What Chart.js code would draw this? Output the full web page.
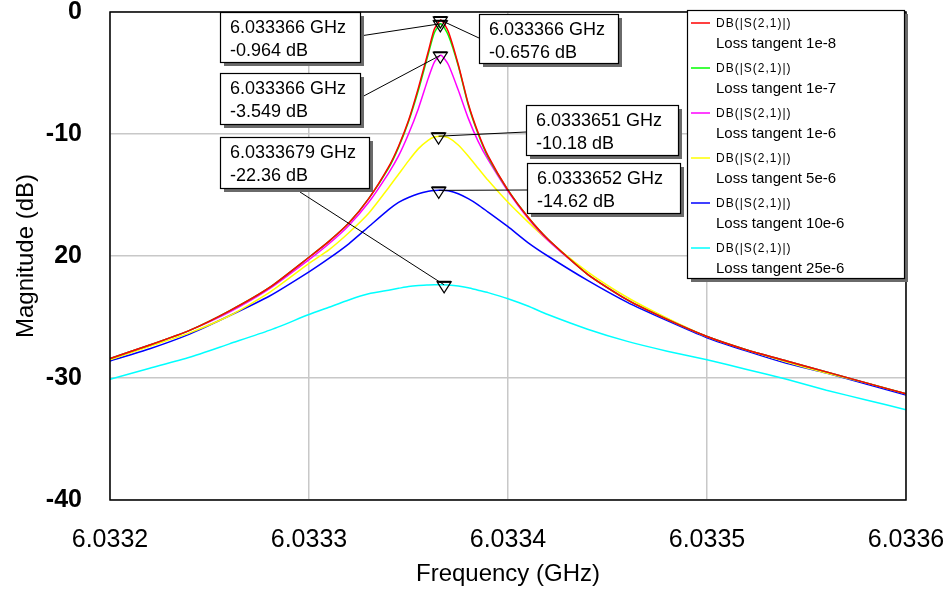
<!DOCTYPE html>
<html>
<head>
<meta charset="utf-8">
<script src="https://cdn.jsdelivr.net/npm/chart.js@4.4.1/dist/chart.umd.min.js"></script>
<style>
  html, body { margin: 0; padding: 0; background: #fff; }
  canvas { display: block; }
</style>
</head>
<body>
<canvas id="chart" width="952" height="595"></canvas>
<script>
// frequency grid (GHz), denser around the resonance
const freqs = [6.03320, 6.03322, 6.03324, 6.03326, 6.03328, 6.03330, 6.03331, 6.03332, 6.03333, 6.03334,
  6.033345, 6.03335, 6.033355, 6.03336, 6.033363, 6.0333663, 6.03337, 6.033375, 6.03338, 6.033385,
  6.03339, 6.03340, 6.03341, 6.03342, 6.03344, 6.03346, 6.03348, 6.03350, 6.03352, 6.03354,
  6.03356, 6.03358, 6.03360];

// |S21| in dB, one array per loss tangent
const lt1e8 = [-28.4, -27.3, -26.1, -24.5, -22.6, -20.1, -18.8, -17.3, -15.3, -12.7,
  -11.0, -8.9, -6.2, -3.2, -1.4, -0.66, -1.6, -4.3, -7.5, -9.9,
  -11.8, -14.6, -16.8, -18.6, -21.5, -23.6, -25.2, -26.6, -27.7, -28.6,
  -29.5, -30.4, -31.3];
const lt1e7 = [-28.4, -27.3, -26.1, -24.5, -22.6, -20.1, -18.8, -17.3, -15.3, -12.8,
  -11.1, -9.0, -6.4, -3.4, -1.7, -0.96, -1.9, -4.4, -7.6, -10.0,
  -11.9, -14.6, -16.8, -18.6, -21.5, -23.6, -25.2, -26.6, -27.7, -28.6,
  -29.5, -30.4, -31.3];
const lt1e6 = [-28.4, -27.3, -26.1, -24.6, -22.7, -20.3, -19.0, -17.5, -15.6, -13.2,
  -11.8, -10.0, -7.9, -5.4, -4.1, -3.55, -4.3, -6.4, -8.7, -10.6,
  -12.1, -14.7, -16.9, -18.7, -21.5, -23.6, -25.2, -26.6, -27.7, -28.6,
  -29.5, -30.4, -31.3];
const lt5e6 = [-28.5, -27.4, -26.3, -24.9, -23.0, -20.6, -19.5, -18.1, -16.5, -14.4,
  -13.3, -12.2, -11.2, -10.5, -10.25, -10.18, -10.3, -10.9, -11.8, -12.8,
  -13.8, -15.6, -17.2, -18.7, -21.3, -23.4, -25.1, -26.6, -27.7, -28.7,
  -29.6, -30.4, -31.3];
const lt10e6 = [-28.6, -27.6, -26.4, -24.9, -23.3, -21.3, -20.2, -19.0, -17.6, -16.2,
  -15.6, -15.2, -14.9, -14.7, -14.63, -14.62, -14.66, -14.9, -15.3, -15.8,
  -16.4, -17.6, -18.9, -20.0, -22.0, -23.8, -25.3, -26.7, -27.8, -28.8,
  -29.6, -30.5, -31.4];
const lt25e6 = [-30.1, -29.2, -28.3, -27.2, -26.1, -24.8, -24.2, -23.6, -23.1, -22.8,
  -22.65, -22.5, -22.42, -22.38, -22.36, -22.36, -22.37, -22.45, -22.6, -22.8,
  -23.0, -23.5, -24.1, -24.8, -26.0, -27.0, -27.8, -28.5, -29.3, -30.1,
  -31.0, -31.8, -32.6];

const seriesValues = [lt1e8, lt1e7, lt1e6, lt5e6, lt10e6, lt25e6];
const seriesNames = ['Loss tangent 1e-8', 'Loss tangent 1e-7', 'Loss tangent 1e-6',
  'Loss tangent 5e-6', 'Loss tangent 10e-6', 'Loss tangent 25e-6'];
const seriesColors = ['#ff0000', '#00ff00', '#ff00ff', '#ffff00', '#0000ff', '#00ffff'];
const measureName = 'DB(|S(2,1)|)';

const xTicks = [6.0332, 6.0333, 6.0334, 6.0335, 6.0336];
const xTickLabels = ['6.0332', '6.0333', '6.0334', '6.0335', '6.0336'];
const yTicks = [0, -10, -20, -30, -40];
const yTickLabels = ['0', '-10', '20', '-30', '-40'];

// peak markers, one per series
const markerFreqs = [6.033366, 6.033366, 6.033366, 6.0333651, 6.0333652, 6.0333679];
const markerDbs = [-0.6576, -0.964, -3.549, -10.18, -14.62, -22.36];
const markerFreqText = ['6.033366', '6.033366', '6.033366', '6.0333651', '6.0333652', '6.0333679'];
const markerDbText = ['-0.6576', '-0.964', '-3.549', '-10.18', '-14.62', '-22.36'];
// label boxes (pixels) and where their leader line leaves the box
const markerBoxes = [
  { x: 479, y: 14, w: 139, h: 49, fx: 479, fy: 38 },
  { x: 220, y: 12, w: 140, h: 50, fx: 360, fy: 36 },
  { x: 220, y: 73, w: 140, h: 51, fx: 360, fy: 98 },
  { x: 526, y: 105, w: 152, h: 50, fx: 526, fy: 132 },
  { x: 527, y: 163, w: 153, h: 50, fx: 527, fy: 190 },
  { x: 220, y: 137, w: 149, h: 51, fx: 300, fy: 192 }
];

const FONT = '"Liberation Sans", Arial, sans-serif';

function shadowBox(ctx, x, y, w, h) {
  ctx.fillStyle = '#6a6a6a';
  ctx.fillRect(x + 4, y + 4, w, h);
  ctx.fillStyle = '#fff';
  ctx.fillRect(x, y, w, h);
  ctx.strokeStyle = '#000';
  ctx.lineWidth = 1.2;
  ctx.strokeRect(x + 0.5, y + 0.5, w, h);
}

const overlay = {
  id: 'overlay',
  afterDatasetsDraw(chart) {
    const { ctx, chartArea: a, scales: { x, y } } = chart;
    ctx.save();
    // frame
    ctx.strokeStyle = '#000';
    ctx.lineWidth = 1.5;
    ctx.strokeRect(a.left, a.top, a.right - a.left, a.bottom - a.top);

    // leader lines
    ctx.lineWidth = 1;
    markerFreqs.forEach((f, i) => {
      const px = x.getPixelForValue(f);
      const py = y.getPixelForValue(markerDbs[i]);
      const b = markerBoxes[i];
      ctx.beginPath();
      ctx.moveTo(b.fx, b.fy);
      ctx.lineTo(px, py);
      ctx.stroke();
    });

    // triangle markers
    markerFreqs.forEach((f, i) => {
      const px = x.getPixelForValue(f);
      const py = y.getPixelForValue(markerDbs[i]);
      ctx.lineWidth = 1.2;
      ctx.beginPath();
      ctx.moveTo(px - 7, py - 3);
      ctx.lineTo(px + 7, py - 3);
      ctx.lineTo(px, py + 8);
      ctx.closePath();
      ctx.stroke();
      ctx.lineWidth = 2;
      ctx.beginPath();
      ctx.moveTo(px - 7, py - 3);
      ctx.lineTo(px + 7, py - 3);
      ctx.stroke();
    });

    // label boxes
    ctx.font = '18px ' + FONT;
    ctx.textBaseline = 'alphabetic';
    ctx.textAlign = 'left';
    markerBoxes.forEach((b, i) => {
      shadowBox(ctx, b.x, b.y, b.w, b.h);
      ctx.fillStyle = '#000';
      ctx.fillText(markerFreqText[i] + ' GHz', b.x + 10, b.y + 21);
      ctx.fillText(markerDbText[i] + ' dB', b.x + 10, b.y + 44);
    });

    // legend
    const lx = 687, ly = 10, lw = 217, lh = 268;
    shadowBox(ctx, lx, ly, lw, lh);
    seriesNames.forEach((name, i) => {
      const cy = ly + 13 + 45 * i;
      ctx.strokeStyle = seriesColors[i];
      ctx.lineWidth = 1.5;
      ctx.beginPath();
      ctx.moveTo(lx + 4, cy);
      ctx.lineTo(lx + 23, cy);
      ctx.stroke();
      ctx.fillStyle = '#000';
      ctx.font = '12px ' + FONT;
      ctx.letterSpacing = '1px';
      ctx.textBaseline = 'middle';
      ctx.fillText(measureName, lx + 29, cy + 1);
      ctx.letterSpacing = '0px';
      ctx.font = '15px ' + FONT;
      ctx.textBaseline = 'alphabetic';
      ctx.fillText(name, lx + 29, cy + 25);
    });
    ctx.restore();
  }
};

const datasets = seriesValues.map((vals, i) => ({
  label: seriesNames[i],
  data: freqs.map((f, k) => ({ x: f, y: vals[k] })),
  borderColor: seriesColors[i],
  backgroundColor: seriesColors[i],
  borderWidth: 1.5,
  pointRadius: 0,
  tension: 0.2,
  fill: false
}));

new Chart(document.getElementById('chart'), {
  type: 'line',
  data: { datasets },
  options: {
    responsive: false,
    animation: false,
    layout: { padding: { top: 12, right: 46, left: 0, bottom: 0 } },
    plugins: { legend: { display: false }, tooltip: { enabled: false } },
    scales: {
      x: {
        type: 'linear',
        min: 6.0332,
        max: 6.0336,
        afterBuildTicks: (s) => { s.ticks = xTicks.map(v => ({ value: v })); },
        afterFit: (s) => { s.height = 95; s.paddingLeft = 0; s.paddingRight = 0; },
        grid: { color: '#c8c8c8', lineWidth: 1.5, drawTicks: false },
        border: { display: false },
        ticks: {
          padding: 25,
          color: '#000',
          font: { family: FONT, size: 25 },
          maxRotation: 0,
          callback: (v, i) => xTickLabels[i]
        },
        title: {
          display: true,
          text: 'Frequency (GHz)',
          color: '#000',
          font: { family: FONT, size: 24 },
          padding: { top: 0, bottom: 6 }
        }
      },
      y: {
        min: -40,
        max: 0,
        afterBuildTicks: (s) => { s.ticks = yTicks.map(v => ({ value: v })); },
        afterFit: (s) => { s.width = 110; s.paddingTop = 0; s.paddingBottom = 0; },
        grid: { color: '#c8c8c8', lineWidth: 1.5, drawTicks: false },
        border: { display: false },
        ticks: {
          padding: 28,
          color: '#000',
          font: { family: FONT, size: 25, weight: 'bold' },
          callback: (v, i) => yTickLabels[i]
        },
        title: {
          display: true,
          text: 'Magnitude (dB)',
          color: '#000',
          font: { family: FONT, size: 24 },
          padding: { top: 12, bottom: 0 }
        }
      }
    }
  },
  plugins: [overlay]
});
</script>
</body>
</html>
